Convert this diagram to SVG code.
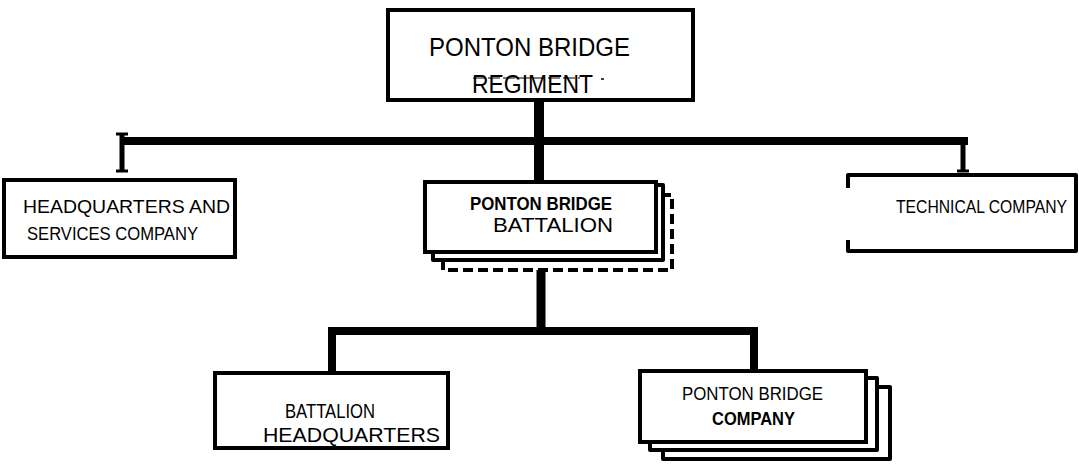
<svg xmlns="http://www.w3.org/2000/svg" width="1079" height="466" viewBox="0 0 1079 466">
<style>
  .box { fill: #fff; stroke: #000; stroke-width: 4; }
  .layer { fill: none; stroke: #000; stroke-width: 4; stroke-linejoin: round; }
  .dashed { stroke-dasharray: 10 5; }
  .conn { stroke: #000; fill: none; stroke-linecap: butt; }
  .t { font-family: "Liberation Sans", Arial, sans-serif; fill: #000; }
  .b { font-weight: bold; }
</style>
<rect width="1079" height="466" fill="#fff"/>

<g id="connectors">
  <line class="conn" x1="539" y1="100" x2="539" y2="182" stroke-width="10"/>
  <line class="conn" x1="124" y1="141" x2="968" y2="141" stroke-width="8"/>
  <line class="conn" x1="122" y1="133" x2="122" y2="172" stroke-width="5"/>
  <line class="conn" x1="116" y1="134" x2="128" y2="134" stroke-width="3"/>
  <line class="conn" x1="116" y1="171" x2="128" y2="171" stroke-width="3"/>
  <line class="conn" x1="963" y1="141" x2="963" y2="172" stroke-width="5"/>
  <line class="conn" x1="957" y1="171" x2="969" y2="171" stroke-width="3"/>
  <line class="conn" x1="541" y1="270" x2="541" y2="331" stroke-width="9"/>
  <line class="conn" x1="328" y1="331" x2="758" y2="331" stroke-width="8"/>
  <line class="conn" x1="332" y1="331" x2="332" y2="373" stroke-width="8"/>
  <line class="conn" x1="754" y1="331" x2="754" y2="371" stroke-width="8"/>
</g>

<g id="regiment">
  <rect class="box" x="388" y="10" width="305" height="90"/>
  <text class="t" x="429" y="56" font-size="26" textLength="201" lengthAdjust="spacingAndGlyphs">PONTON BRIDGE</text>
  <text class="t" x="472" y="93" font-size="26" textLength="121" lengthAdjust="spacingAndGlyphs">REGIMENT</text>
  <line x1="473" y1="78" x2="580" y2="78" stroke="#000" stroke-width="1.2" stroke-dasharray="12 3"/>
  <line x1="601" y1="79" x2="604" y2="79" stroke="#000" stroke-width="1.5"/>
</g>

<g id="hq-services">
  <rect class="box" x="4" y="180" width="231" height="77"/>
  <text class="t" x="23" y="213" font-size="18" textLength="207" lengthAdjust="spacingAndGlyphs">HEADQUARTERS AND</text>
  <text class="t" x="27" y="240" font-size="18" textLength="171" lengthAdjust="spacingAndGlyphs">SERVICES COMPANY</text>
</g>

<g id="battalion">
  <path class="layer dashed" d="M443 260 L443 270 L672 270 L672 195 L663 195"/>
  <path class="layer" d="M433 252 L433 260 L663 260 L663 185 L656 185"/>
  <rect class="box" x="425" y="182" width="231" height="70"/>
  <text class="t b" x="470" y="210" font-size="19" textLength="142" lengthAdjust="spacingAndGlyphs">PONTON BRIDGE</text>
  <text class="t" x="493" y="232" font-size="21" textLength="120" lengthAdjust="spacingAndGlyphs">BATTALION</text>
</g>

<g id="technical">
  <path class="layer" d="M848 188 L848 175 L1076 175 L1076 251 L848 251 L848 240" stroke-width="3"/>
  <text class="t" x="896" y="213" font-size="18" textLength="171" lengthAdjust="spacingAndGlyphs">TECHNICAL COMPANY</text>
</g>

<g id="battalion-hq">
  <rect class="box" x="215" y="373" width="233" height="75"/>
  <text class="t" x="285" y="418" font-size="21" textLength="90" lengthAdjust="spacingAndGlyphs">BATTALION</text>
  <text class="t" x="263" y="442" font-size="20" textLength="177" lengthAdjust="spacingAndGlyphs">HEADQUARTERS</text>
</g>

<g id="company">
  <path class="layer" d="M663 450 L663 459 L890 459 L890 387 L877 387"/>
  <path class="layer" d="M650 442 L650 450 L877 450 L877 378 L866 378"/>
  <rect class="box" x="640" y="371" width="226" height="71"/>
  <text class="t" x="682" y="400" font-size="18" textLength="141" lengthAdjust="spacingAndGlyphs">PONTON BRIDGE</text>
  <text class="t b" x="712" y="425" font-size="18" textLength="83" lengthAdjust="spacingAndGlyphs">COMPANY</text>
</g>
</svg>
